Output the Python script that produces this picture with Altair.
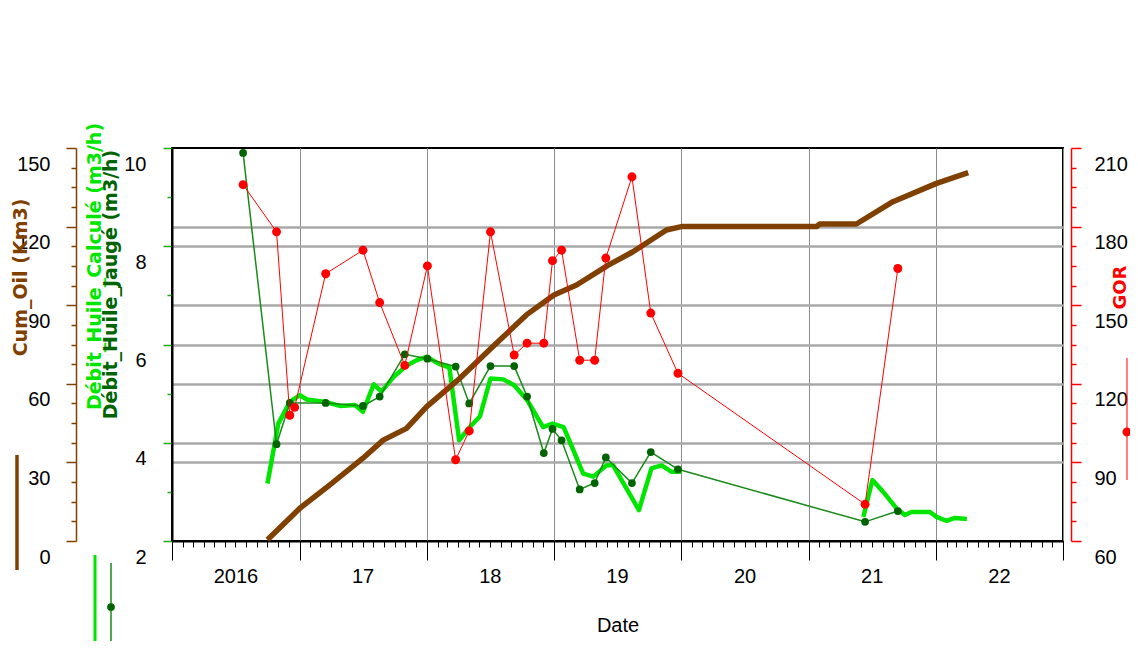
import altair as alt
import pandas as pd

# ---------------- data ----------------
calc_dates = [
    "2016-10-01", "2016-11-01", "2016-12-04", "2017-01-02", "2017-01-22", "2017-03-17",
    "2017-04-27", "2017-06-09", "2017-07-02", "2017-08-02", "2017-08-24", "2017-09-27",
    "2017-11-02", "2017-12-03", "2018-01-01", "2018-02-04", "2018-03-07", "2018-04-04",
    "2018-05-01", "2018-06-03", "2018-07-03", "2018-08-09", "2018-09-09", "2018-10-16",
    "2018-12-01", "2018-12-28", "2019-01-29", "2019-03-26", "2019-04-24", "2019-06-01",
    "2019-06-20", "2019-09-02", "2019-10-08", "2019-11-06", "2019-12-04", "2020-01-02",
    "2021-06-07", "2021-07-03", "2021-08-03", "2021-09-11", "2021-10-04", "2021-10-23",
    "2021-12-15", "2022-01-03", "2022-02-01", "2022-02-25", "2022-03-31",
]
calc_values = [
    3.17, 4.39, 4.83, 4.97, 4.88, 4.83,
    4.75, 4.77, 4.63, 5.19, 5.04, 5.33,
    5.56, 5.68, 5.75, 5.61, 5.53, 4.05,
    4.29, 4.54, 5.31, 5.29, 5.17, 4.87,
    4.32, 4.39, 4.32, 3.37, 3.31, 3.54,
    3.54, 2.63, 3.48, 3.54, 3.41, 3.41,
    2.49, 3.24, 3.00, 2.66, 2.53, 2.59,
    2.59, 2.49, 2.41, 2.47, 2.45,
]
calc_segment = [1] * 36 + [2] * 11

jauge_dates = [
    "2016-07-23", "2016-10-27", "2016-12-04", "2017-03-17", "2017-07-02", "2017-08-19",
    "2017-10-30", "2018-01-03", "2018-03-25", "2018-05-03", "2018-07-03", "2018-09-09",
    "2018-10-16", "2018-12-03", "2018-12-28", "2019-01-23", "2019-03-16", "2019-04-28",
    "2019-05-30", "2019-08-13", "2019-10-06", "2019-12-23", "2021-06-12", "2021-09-14",
]
jauge_values = [
    9.90, 3.97, 4.81, 4.81, 4.75, 4.94,
    5.80, 5.71, 5.55, 4.80, 5.56, 5.56,
    4.94, 3.79, 4.28, 4.05, 3.05, 3.18,
    3.70, 3.18, 3.81, 3.46, 2.39, 2.61,
]

gor_dates = [
    "2016-07-23", "2016-10-27", "2016-12-04", "2016-12-18", "2017-03-17", "2017-07-02",
    "2017-08-19", "2017-10-30", "2018-01-03", "2018-03-25", "2018-05-03", "2018-07-03",
    "2018-09-09", "2018-10-16", "2018-12-03", "2018-12-28", "2019-01-23", "2019-03-16",
    "2019-04-28", "2019-05-30", "2019-08-13", "2019-10-06", "2019-12-23", "2021-06-12",
    "2021-09-14",
]
gor_values = [
    196, 178, 108, 111, 162, 171,
    151, 127, 165, 91, 102, 178,
    131, 135.5, 135.5, 167, 171, 129,
    129, 168, 199, 147, 124, 74,
    164,
]

cum_dates = [
    "2016-10-01", "2017-01-02", "2017-03-29", "2017-07-02", "2017-08-29", "2017-11-04",
    "2018-01-01", "2018-04-06", "2018-07-10", "2018-10-14", "2019-01-01", "2019-03-07",
    "2019-06-06", "2019-08-16", "2019-11-20", "2020-01-02", "2021-01-24", "2021-02-02",
    "2021-05-18", "2021-08-31", "2022-01-03", "2022-04-04",
]
cum_values = [
    0.5, 12.5, 21.4, 31.6, 38.5, 43.0,
    51.3, 62.1, 74.2, 86.3, 93.9, 97.7,
    105.3, 110.4, 118.7, 120.0, 120.0, 121.0,
    121.0, 129.5, 136.5, 140.6,
]

# axis tick values
month_ticks = [alt.DateTime(year=y, month=m, date=1) for y in range(2016, 2023) for m in range(1, 13)]
month_ticks.append(alt.DateTime(year=2023, month=1, date=1))
debit_ticks = [2 + 0.5 * i for i in range(17)]
cum_ticks = [7.5 * i for i in range(21)]
gor_ticks = [60 + 7.5 * i for i in range(21)]

# ---------------- styling ----------------
BROWN = "#804000"
LIME = "#00e600"
DKGREEN = "#006400"
JLINE = "#1a8a1a"
RED = "#ff0000"
GRID = "#a9a9a9"
NARROW = "Liberation Sans Narrow, Arial Narrow, Liberation Sans"
BOLD = "DejaVu Sans"

calc_df = pd.DataFrame({"date": [d + "T00:00:00" for d in calc_dates],
                        "v": calc_values, "seg": calc_segment})
jauge_df = pd.DataFrame({"date": [d + "T00:00:00" for d in jauge_dates], "v": jauge_values})
gor_df = pd.DataFrame({"date": [d + "T00:00:00" for d in gor_dates], "v": gor_values})
cum_df = pd.DataFrame({"date": [d + "T00:00:00" for d in cum_dates], "v": cum_values})

xscale = alt.Scale(domain=[alt.DateTime(year=2016, month=1, date=1),
                           alt.DateTime(year=2023, month=1, date=1)])

x_axis = alt.Axis(
    orient="bottom", values=month_ticks, title="Date",
    labelExpr="month(datum.value) === 6 ? (year(datum.value) === 2016 ? '2016' : '' + (year(datum.value) - 2000)) : ''",
    tickSize={"condition": {"test": "month(datum.value) === 0", "value": 19}, "value": 6},
    tickColor="black", tickWidth=1,
    grid=True, gridColor="#8c8c8c", gridWidth=1,
    gridOpacity={"condition": {"test": "month(datum.value) === 0", "value": 1}, "value": 0},
    domainColor="black", domainWidth=2,
    labelPadding=19, labelBaseline="top", labelAlign="center",
    labelFont=NARROW, labelFontSize=20, labelColor="black",
    labelOverlap=False, labelFlush=False,
    titleFont=NARROW, titleFontSize=20, titleFontWeight="normal", titleColor="black",
    titleY=84, titleBaseline="middle",
)
# the same x definition in every layer so that the shared axis merges cleanly
x_enc = alt.X("date:T", scale=xscale, axis=x_axis)

# Débit_Huile_Calculé (bright green) + left green axis + grid + x axis
debit_axis = alt.Axis(
    orient="left", offset=0, values=debit_ticks, format="d",
    labelExpr="datum.value % 2 === 0 ? datum.label : ''",
    tickSize={"condition": {"test": "datum.value % 2 === 0", "value": 9}, "value": 5},
    tickColor="#22aa22", tickWidth=1.5,
    domainColor="black", domainWidth=2,
    grid=True, gridColor=GRID, gridWidth=2.5,
    gridOpacity={"condition": {"test": "datum.value === 4 || datum.value === 6 || datum.value === 8",
                               "value": 1}, "value": 0},
    labelFont=NARROW, labelFontSize=20, labelColor="black",
    labelPadding=17, labelOffset=16, labelBaseline="middle", labelAlign="right",
    labelOverlap=False, labelFlush=False,
    title="Débit_Huile_Calculé (m3/h)", titleColor=LIME, titleFont=BOLD,
    titleFontSize=19, titleFontWeight="bold", titleAngle=270,
    titleX=-78, titleY=118, titleAlign="center", titleBaseline="middle",
)
calc = alt.Chart(calc_df).mark_line(color=LIME, strokeWidth=4.5, strokeJoin="round").encode(
    x=x_enc,
    y=alt.Y("v:Q", scale=alt.Scale(domain=[2, 10], nice=False, zero=False), axis=debit_axis),
    detail="seg:N",
)

# Débit_Huile_Jaugé (dark green, dots)
jauge_axis = alt.Axis(
    orient="left", offset=0, labels=False, ticks=False, domain=False, grid=False,
    title="Débit_Huile_Jaugé (m3/h)", titleColor=DKGREEN, titleFont=BOLD,
    titleFontSize=19, titleFontWeight="bold", titleAngle=270,
    titleX=-62, titleY=136, titleAlign="center", titleBaseline="middle",
)
jy = alt.Y("v:Q", scale=alt.Scale(domain=[2, 10], nice=False, zero=False), axis=jauge_axis)
jauge = alt.layer(
    alt.Chart(jauge_df).mark_line(color=JLINE, strokeWidth=1.5).encode(x=x_enc, y=jy),
    alt.Chart(jauge_df).mark_point(filled=True, color=DKGREEN, size=60, opacity=1).encode(x=x_enc, y=jy),
)

# Cum_Oil (brown)
cum_axis = alt.Axis(
    orient="left", offset=96, values=cum_ticks, format="d",
    labelExpr="datum.value % 30 === 0 ? datum.label : ''",
    tickSize={"condition": {"test": "datum.value % 30 === 0", "value": 10}, "value": 5},
    tickColor=BROWN, tickWidth=1.5, domainColor=BROWN, domainWidth=1.5,
    grid=True, gridColor=GRID, gridWidth=2.5,
    gridOpacity={"condition": {"test": "datum.value % 30 === 0 && datum.value > 0 && datum.value < 150",
                               "value": 1}, "value": 0},
    labelFont=NARROW, labelFontSize=20, labelColor="black",
    labelPadding=16, labelOffset=16, labelBaseline="middle", labelAlign="right",
    labelOverlap=False, labelFlush=False,
    title="Cum_Oil (Km3)", titleColor=BROWN, titleFont=BOLD,
    titleFontSize=19, titleFontWeight="bold", titleAngle=270,
    titleX=-56, titleY=129, titleAlign="center", titleBaseline="middle",
)
cum = alt.Chart(cum_df).mark_line(color=BROWN, strokeWidth=5.5, strokeJoin="round").encode(
    x=x_enc,
    y=alt.Y("v:Q", scale=alt.Scale(domain=[0, 150], nice=False, zero=False), axis=cum_axis),
)

# GOR (red)
gor_axis = alt.Axis(
    orient="right", offset=8, values=gor_ticks, format="d",
    labelExpr="datum.value % 30 === 0 ? datum.label : ''",
    tickSize={"condition": {"test": "datum.value % 30 === 0", "value": 10}, "value": 5},
    tickColor=RED, tickWidth=1.5, domainColor=RED, domainWidth=1.5, grid=False,
    labelFont=NARROW, labelFontSize=20, labelColor="black",
    labelPadding=13, labelOffset=16, labelBaseline="middle", labelAlign="left",
    labelOverlap=False, labelFlush=False,
    title="GOR", titleColor=RED, titleFont=BOLD,
    titleFontSize=18, titleFontWeight="bold", titleAngle=270,
    titleX=49, titleY=139, titleAlign="center", titleBaseline="middle",
)
gy = alt.Y("v:Q", scale=alt.Scale(domain=[60, 210], nice=False, zero=False), axis=gor_axis)
gor = alt.layer(
    alt.Chart(gor_df).mark_line(color=RED, strokeWidth=1).encode(x=x_enc, y=gy),
    alt.Chart(gor_df).mark_point(filled=True, color=RED, size=80, opacity=1).encode(x=x_enc, y=gy),
)

# legend keys beside the axis titles
dummy = alt.Data(values=[{"k": 0}])
legend_keys = alt.layer(
    alt.Chart(dummy).mark_rule(color=BROWN, strokeWidth=3.5).encode(
        x=alt.value(-155), y=alt.value(307), y2=alt.value(422)),
    alt.Chart(dummy).mark_rule(color=LIME, strokeWidth=3).encode(
        x=alt.value(-77), y=alt.value(407), y2=alt.value(500)),
    alt.Chart(dummy).mark_rule(color=JLINE, strokeWidth=1.5).encode(
        x=alt.value(-61), y=alt.value(415), y2=alt.value(500)),
    alt.Chart(dummy).mark_point(filled=True, color=DKGREEN, size=60, opacity=1).encode(
        x=alt.value(-61), y=alt.value(459)),
    alt.Chart(dummy).mark_rule(color=RED, strokeWidth=1).encode(
        x=alt.value(955), y=alt.value(210), y2=alt.value(332)),
    alt.Chart(dummy).mark_point(filled=True, color=RED, size=80, opacity=1).encode(
        x=alt.value(955), y=alt.value(284)),
)

chart = alt.layer(calc, jauge, cum, gor, legend_keys).resolve_scale(
    y="independent"
).properties(
    width=891, height=393,
    padding={"left": 164, "top": 140, "right": 67, "bottom": 100},
    autosize=alt.AutoSizeParams(type="none"),
    background="white",
).configure_view(stroke="black", strokeWidth=2)

chart.save("out.html", embed_options={"renderer": "svg", "actions": False})
